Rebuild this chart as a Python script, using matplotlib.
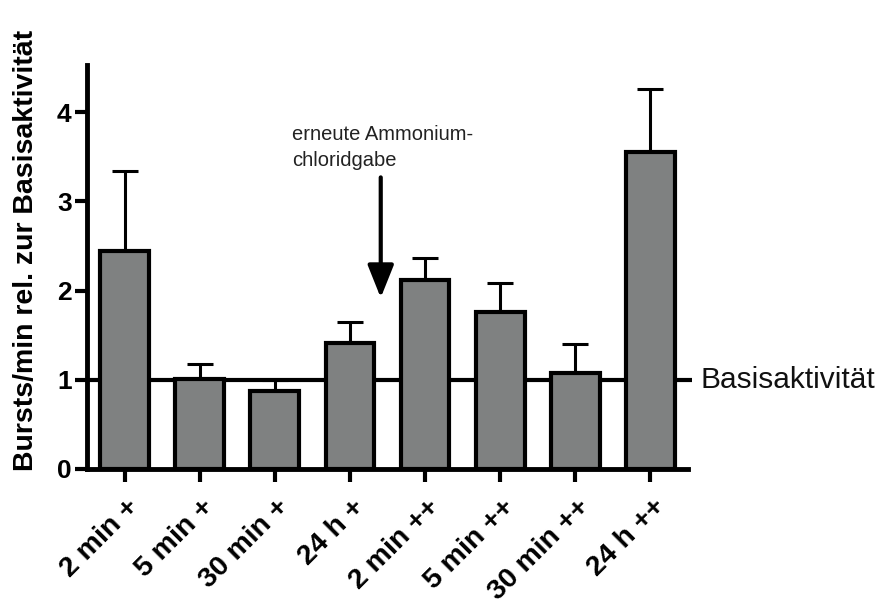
import matplotlib
matplotlib.use("Agg")
import matplotlib.pyplot as plt
import matplotlib.transforms as mtransforms
import numpy as np

plt.rcParams['font.family'] = ['Liberation Sans', 'DejaVu Sans']

# bar data (relative to base activity)
groups = ['2 min +', '5 min +', '30 min +', '24 h +',
          '2 min ++', '5 min ++', '30 min ++', '24 h ++']
means = [2.44, 1.01, 0.87, 1.41, 2.12, 1.76, 1.08, 3.55]
sem = [0.90, 0.17, 0.13, 0.24, 0.25, 0.32, 0.32, 0.71]
baseline = 1.0
yticks = [0, 1, 2, 3, 4]

fig = plt.figure(figsize=(8.85, 6.12), dpi=100)
ax = fig.add_axes([87/885, 143/612, 601/885, 404/612])

x = np.arange(len(groups))

# baseline behind the bars
ax.plot([-0.5, 7.55], [baseline, baseline], color='black', lw=3,
        zorder=1, clip_on=False, solid_capstyle='butt')
ax.text(7.66, baseline, 'Basisaktivität', fontsize=21.5, va='center',
        ha='left', color='#111111')

ax.bar(x, means, width=0.65, color='#7f8181', edgecolor='black',
       linewidth=3, zorder=2)
ax.errorbar(x, means, yerr=[np.zeros(len(sem)), sem], fmt='none',
            ecolor='black', elinewidth=2.2, capsize=9.5, capthick=2.2,
            zorder=1.5)

# arrow marking the second ammonium chloride application
ax.annotate('', xy=(3.41, 1.92), xytext=(3.41, 3.27),
            arrowprops=dict(arrowstyle='-|>,head_length=1.0,head_width=0.4',
                            mutation_scale=20, lw=3, color='black',
                            shrinkA=0, shrinkB=0))
ax.text(2.23, 3.86, 'erneute Ammonium-\nchloridgabe', fontsize=14.5,
        va='top', ha='left', linespacing=1.45, color='#222222')

ax.set_xlim(-0.5, 7.5)
ax.set_ylim(0, 4.53)
ax.set_yticks(yticks)
ax.set_xticks(x)
ax.set_xticklabels(groups, rotation=45, ha='right', va='top',
                   rotation_mode='anchor', fontsize=20.5, fontweight='bold')
ax.set_yticklabels([str(t) for t in yticks], fontsize=19, fontweight='bold')
ax.tick_params(axis='both', length=9, width=3, direction='out')
ax.tick_params(axis='x', pad=9)
ax.tick_params(axis='y', pad=2)

# nudge the slanted labels a little to the right
shift = mtransforms.ScaledTranslation(1/72, 0, fig.dpi_scale_trans)
for lab in ax.get_xticklabels():
    lab.set_transform(lab.get_transform() + shift)

for side in ['top', 'right']:
    ax.spines[side].set_visible(False)
for side in ['left', 'bottom']:
    ax.spines[side].set_linewidth(3.5)

ax.set_ylabel('Bursts/min rel. zur Basisaktivität', fontsize=20.5,
              fontweight='bold', va='center', ha='center')
ax.yaxis.set_label_coords(-0.1015, 0.54)

fig.savefig('out.png', dpi=100)
